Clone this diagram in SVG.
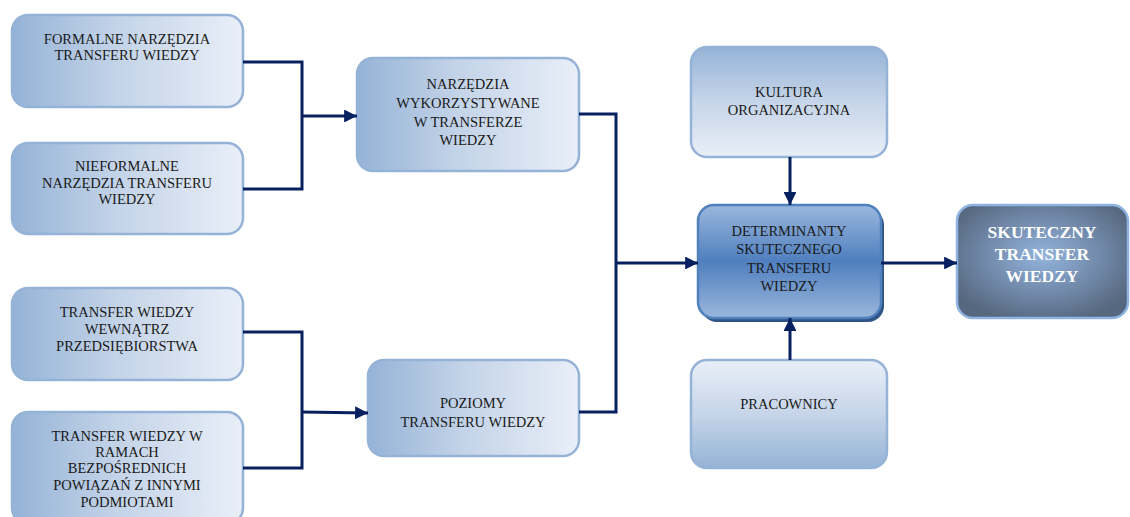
<svg xmlns="http://www.w3.org/2000/svg" width="1130" height="517" viewBox="0 0 1130 517">
  <defs>
    <linearGradient id="gH" x1="0" y1="0" x2="1" y2="0">
      <stop offset="0" stop-color="#95b3d7"/>
      <stop offset="0.45" stop-color="#c3d3e8"/>
      <stop offset="1" stop-color="#e9eff8"/>
    </linearGradient>
    <linearGradient id="gDown" x1="0" y1="0" x2="0" y2="1">
      <stop offset="0" stop-color="#95b3d7"/>
      <stop offset="0.5" stop-color="#c6d5e9"/>
      <stop offset="1" stop-color="#e9eff8"/>
    </linearGradient>
    <linearGradient id="gUp" x1="0" y1="0" x2="0" y2="1">
      <stop offset="0" stop-color="#e9eff8"/>
      <stop offset="0.5" stop-color="#c6d5e9"/>
      <stop offset="1" stop-color="#95b3d7"/>
    </linearGradient>
    <linearGradient id="gMid" x1="0" y1="0" x2="0" y2="1">
      <stop offset="0" stop-color="#9ab7dc"/>
      <stop offset="0.5" stop-color="#4f7fbf"/>
      <stop offset="1" stop-color="#9ab7dc"/>
    </linearGradient>
    <radialGradient id="gRad" cx="0.5" cy="0.45" r="0.6">
      <stop offset="0" stop-color="#93b4dd"/>
      <stop offset="0.6" stop-color="#6f86a6"/>
      <stop offset="1" stop-color="#56687f"/>
    </radialGradient>
    <marker id="ah" viewBox="0 0 10 10" refX="10" refY="5" markerWidth="4.3" markerHeight="4.3" orient="auto" markerUnits="strokeWidth">
      <path d="M0,0 L10,5 L0,10 z" fill="#062060"/>
    </marker>
    <style>
      .box { stroke: #95b3d7; stroke-width: 2.5; }
      text { font-family: 'Liberation Serif', 'DejaVu Serif', serif; text-anchor: middle; }
      .t { font-size: 14.5px; fill: #1a1a1a; }
      .tw { font-size: 17.5px; font-weight: bold; fill: #ffffff; }
      .c { fill: none; stroke: #062060; stroke-width: 3; }
    </style>
  </defs>

  <g id="formalne">
    <rect class="box" x="12" y="15" width="231" height="92" rx="16" fill="url(#gH)"/>
    <text class="t" x="127" y="44" font-family="Liberation Serif, serif">FORMALNE NARZĘDZIA</text>
    <text class="t" x="127" y="60" font-family="Liberation Serif, serif">TRANSFERU WIEDZY</text>
  </g>

  <g id="nieformalne">
    <rect class="box" x="12" y="143" width="231" height="91" rx="16" fill="url(#gH)"/>
    <text class="t" x="127" y="171">NIEFORMALNE</text>
    <text class="t" x="127" y="188">NARZĘDZIA TRANSFERU</text>
    <text class="t" x="127" y="204">WIEDZY</text>
  </g>

  <g id="wewnatrz">
    <rect class="box" x="12" y="288" width="231" height="92" rx="16" fill="url(#gH)"/>
    <text class="t" x="127" y="317">TRANSFER WIEDZY</text>
    <text class="t" x="127" y="334">WEWNĄTRZ</text>
    <text class="t" x="127" y="351">PRZEDSIĘBIORSTWA</text>
  </g>

  <g id="powiazania">
    <rect class="box" x="12" y="412" width="231" height="112" rx="16" fill="url(#gH)"/>
    <text class="t" x="127" y="441">TRANSFER WIEDZY W</text>
    <text class="t" x="127" y="457">RAMACH</text>
    <text class="t" x="127" y="473">BEZPOŚREDNICH</text>
    <text class="t" x="127" y="490">POWIĄZAŃ Z INNYMI</text>
    <text class="t" x="127" y="507">PODMIOTAMI</text>
  </g>

  <g id="narzedzia">
    <rect class="box" x="357" y="58" width="222" height="113" rx="16" fill="url(#gH)"/>
    <text class="t" x="468" y="89">NARZĘDZIA</text>
    <text class="t" x="468" y="108">WYKORZYSTYWANE</text>
    <text class="t" x="468" y="127">W TRANSFERZE</text>
    <text class="t" x="468" y="145">WIEDZY</text>
  </g>

  <g id="poziomy">
    <rect class="box" x="368" y="360" width="211" height="96" rx="16" fill="url(#gH)"/>
    <text class="t" x="473" y="408">POZIOMY</text>
    <text class="t" x="473" y="427">TRANSFERU WIEDZY</text>
  </g>

  <g id="kultura">
    <rect class="box" x="691" y="47" width="196" height="110" rx="16" fill="url(#gDown)"/>
    <text class="t" x="789" y="97">KULTURA</text>
    <text class="t" x="789" y="115">ORGANIZACYJNA</text>
  </g>

  <g id="pracownicy">
    <rect class="box" x="691" y="360" width="196" height="108" rx="16" fill="url(#gUp)"/>
    <text class="t" x="789" y="409">PRACOWNICY</text>
  </g>

  <g id="determinanty">
    <rect x="701" y="209" width="183" height="113" rx="16" fill="#2f5486"/>
    <rect x="698" y="205" width="183" height="113" rx="16" fill="url(#gMid)" stroke="#4f81bd" stroke-width="2.5"/>
    <text class="t" x="789" y="236">DETERMINANTY</text>
    <text class="t" x="789" y="254">SKUTECZNEGO</text>
    <text class="t" x="789" y="273">TRANSFERU</text>
    <text class="t" x="789" y="291">WIEDZY</text>
  </g>

  <g id="skuteczny">
    <rect x="957" y="205" width="171" height="113" rx="16" fill="url(#gRad)" stroke="#8eb4e3" stroke-width="2.5"/>
    <text class="tw" x="1042" y="238">SKUTECZNY</text>
    <text class="tw" x="1042" y="260">TRANSFER</text>
    <text class="tw" x="1042" y="282">WIEDZY</text>
  </g>

  <g id="connectors">
    <polyline class="c" points="243,62 302,62 302,189 243,189"/>
    <line class="c" x1="302" y1="116" x2="357" y2="116" marker-end="url(#ah)"/>
    <polyline class="c" points="243,332 302,332 302,468 243,468"/>
    <line class="c" x1="302" y1="412" x2="368" y2="413" marker-end="url(#ah)"/>
    <polyline class="c" points="579,114 616,114 616,412 579,412"/>
    <line class="c" x1="616" y1="263" x2="698" y2="263" marker-end="url(#ah)"/>
    <line class="c" x1="881" y1="263" x2="957" y2="263" marker-end="url(#ah)"/>
    <line class="c" x1="790" y1="157" x2="790" y2="205" marker-end="url(#ah)"/>
    <line class="c" x1="790" y1="360" x2="790" y2="318" marker-end="url(#ah)"/>
  </g>
</svg>
